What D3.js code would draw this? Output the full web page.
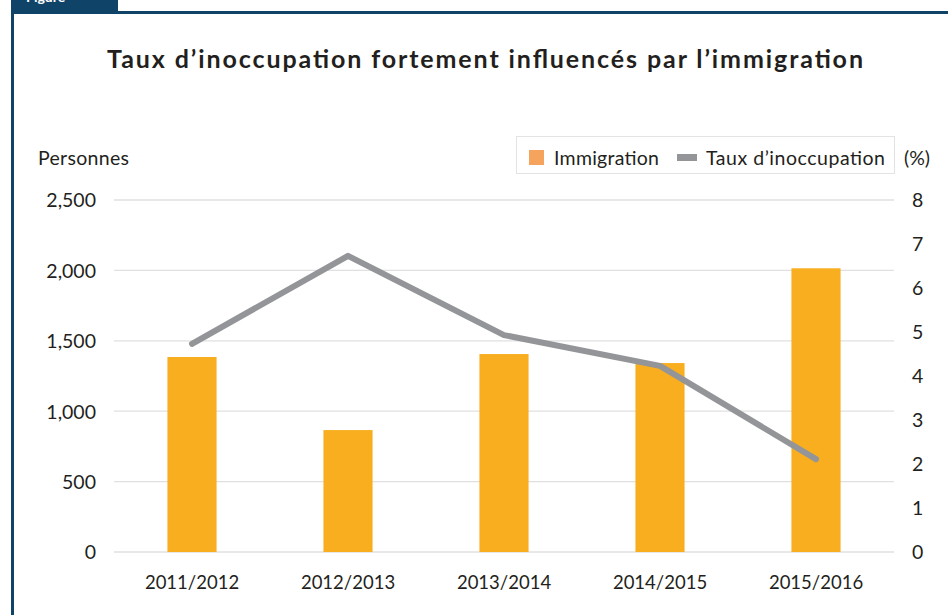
<!DOCTYPE html>
<html><head><meta charset="utf-8">
<script src="https://cdn.jsdelivr.net/npm/d3@7"></script>
<style>body{margin:0;background:#fff}svg{display:block}text{font-family:Lato,"Open Sans",sans-serif}</style>
</head><body><svg id="c" width="948" height="615"></svg>
<script>
const categories = ["2011/2012","2012/2013","2013/2014","2014/2015","2015/2016"];
const immigration = [1385, 866, 1406, 1342, 2015];
const tauxInoccupation = [4.73, 6.73, 4.93, 4.23, 2.11];
const leftTicks = [0, 500, 1000, 1500, 2000, 2500];
const rightTicks = [0,1,2,3,4,5,6,7,8];

const svg = d3.select("#c");
const frame = "#0F4468";
const ink = "#231f20";
// frame and tab
svg.append("rect").attr("x",11).attr("y",0).attr("width",107).attr("height",12).attr("fill",frame);
svg.append("text").attr("x",26).attr("y",2).attr("fill","#fff").attr("font-size",14).attr("font-weight","bold").text("Figure");
svg.append("rect").attr("x",11).attr("y",11).attr("width",937).attr("height",3).attr("fill",frame);
svg.append("rect").attr("x",11).attr("y",11).attr("width",3).attr("height",604).attr("fill",frame);

svg.append("text").attr("x",107).attr("y",68)
  .attr("font-size",25).attr("font-weight","bold").attr("fill",ink)
  .attr("textLength",756).attr("lengthAdjust","spacing")
  .text("Taux d’inoccupation fortement influencés par l’immigration");

const x = d3.scaleBand().domain(categories).range([114, 894]).paddingInner(0.685).paddingOuter(0.3425);
const yL = d3.scaleLinear().domain([0,2500]).range([552,200]);
const yR = d3.scaleLinear().domain([0,8]).range([552,200]);

// gridlines
svg.append("g").selectAll("line").data(leftTicks).join("line")
  .attr("x1",114).attr("x2",894).attr("y1",d=>yL(d)).attr("y2",d=>yL(d))
  .attr("stroke","#e0e0e0").attr("stroke-width",1.3);

// left axis
const gL = svg.append("g").attr("transform","translate(96,0)")
  .call(d3.axisLeft(yL).tickValues(leftTicks).tickSize(0).tickPadding(0).tickFormat(d3.format(",")));
gL.select(".domain").remove();
gL.selectAll("text").attr("font-size",19.5).attr("fill",ink).attr("font-family","Lato, sans-serif").attr("dy","0.35em");

// right axis
const gR = svg.append("g").attr("transform","translate(912,0)")
  .call(d3.axisRight(yR).tickValues(rightTicks).tickSize(0).tickPadding(0));
gR.select(".domain").remove();
gR.selectAll("text").attr("font-size",19.5).attr("fill",ink).attr("font-family","Lato, sans-serif").attr("dy","0.35em");

// x axis
const gX = svg.append("g").attr("transform","translate(0,552)")
  .call(d3.axisBottom(x).tickSize(0).tickPadding(24));
gX.select(".domain").remove();
gX.selectAll("text").attr("font-size",18.5).attr("fill",ink).attr("font-family","Lato, sans-serif");

// bars
svg.append("g").selectAll("rect").data(immigration).join("rect")
  .attr("x",(d,i)=>x(categories[i])).attr("width",x.bandwidth())
  .attr("y",d=>yL(d)).attr("height",d=>yL(0)-yL(d)).attr("fill","#F8AE1F");

// line
const line = d3.line().x((d,i)=>x(categories[i])+x.bandwidth()/2).y(d=>yR(d));
svg.append("path").datum(tauxInoccupation).attr("d",line).attr("fill","none")
  .attr("stroke","#939598").attr("stroke-width",6).attr("stroke-linecap","round").attr("stroke-linejoin","round");

// axis titles
svg.append("text").attr("x",38).attr("y",165).attr("font-size",19.5).attr("fill",ink)
  .attr("textLength",91).text("Personnes");
svg.append("text").attr("x",904).attr("y",165).attr("font-size",19.5).attr("fill",ink).text("(%)");

// legend
svg.append("rect").attr("x",516.5).attr("y",136.5).attr("width",378).attr("height",37).attr("fill","#fff").attr("stroke","#e3e3e3").attr("stroke-width",1);
svg.append("rect").attr("x",529).attr("y",150).attr("width",15).attr("height",15).attr("fill","#F5A35D");
svg.append("text").attr("x",554).attr("y",165).attr("font-size",19.5).attr("fill",ink).attr("textLength",105).text("Immigration");
svg.append("rect").attr("x",677).attr("y",154).attr("width",20).attr("height",7).attr("fill","#939598");
svg.append("text").attr("x",706).attr("y",165).attr("font-size",19.5).attr("fill",ink).attr("textLength",179).text("Taux d’inoccupation");
</script></body></html>
